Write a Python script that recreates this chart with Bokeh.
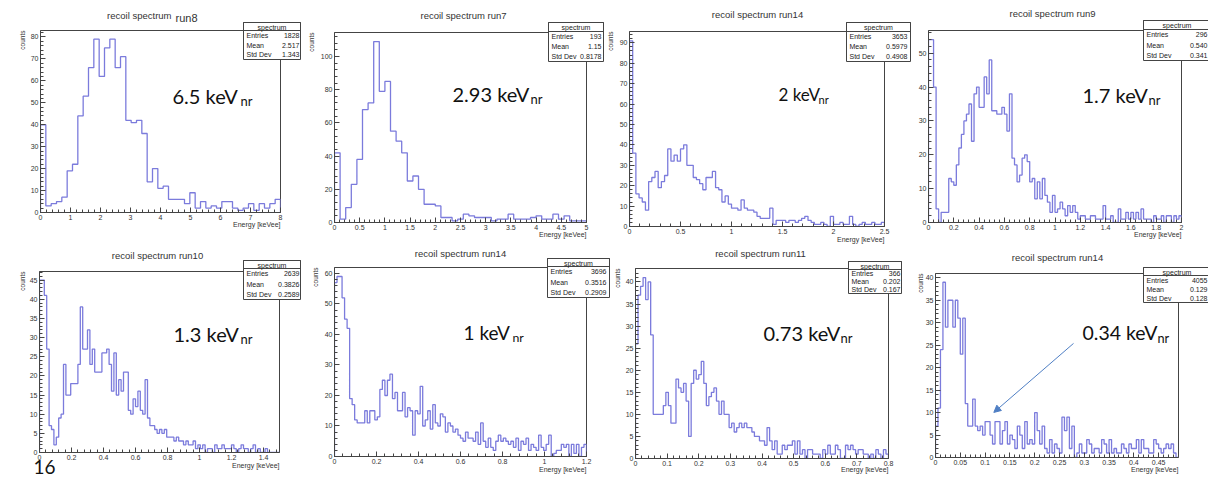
import numpy as np
from bokeh.plotting import figure
from bokeh.layouts import column
from bokeh.models import FixedTicker, Label, BoxAnnotation, Arrow, NormalHead, Range1d, GridBox
from bokeh.embed import file_html
from bokeh.resources import INLINE

# ---------------- data ----------------
run8_counts = [40, 3, 4, 5, 7, 19, 22, 44, 53, 66, 79, 62, 75, 79, 66, 71, 42, 41, 42, 36,
               14, 20, 11, 12, 6, 6, 6, 4, 9, 2, 5, 2, 3, 2, 5, 5, 2, 1, 2, 4, 1, 4, 2, 4, 6]
run7_counts = [42, 2, 9, 23, 38, 68, 72, 109, 79, 85, 55, 49, 42, 25, 28, 20, 11, 11, 10, 3,
               3, 1, 2, 5, 4, 3, 3, 3, 1, 2, 2, 5, 2, 2, 2, 3, 4, 2, 2, 5, 2, 4, 1, 1, 1]
run14a_counts = [91, 36, 16, 14, 12, 8, 22, 24, 27, 19, 22, 25, 38, 32, 35, 32, 38, 40, 30, 30,
                 24, 23, 21, 18, 24, 24, 27, 19, 18, 12, 15, 11, 9, 9, 8, 13, 9, 8, 8, 7,
                 5, 4, 4, 4, 9, 1, 3, 3, 3, 2, 3, 3, 2, 3, 4, 5, 3, 2, 1, 1,
                 2, 1, 0, 5, 1, 1, 2, 1, 1, 5, 1, 0, 1, 2, 1, 1, 2, 1, 1, 2]
run9_counts = [54, 54, 40, 4, 0, 3, 3, 3, 13, 12, 11, 17, 22, 26, 30, 32, 35, 24, 38, 40,
               34, 34, 43, 38, 48, 33, 33, 32, 32, 34, 32, 27, 38, 19, 17, 12, 14, 19, 20, 18,
               12, 13, 7, 12, 7, 13, 8, 6, 3, 8, 3, 4, 6, 4, 2, 5, 3, 5, 3, 1,
               2, 2, 1, 1, 2, 2, 1, 1, 1, 5, 1, 1, 2, 0, 0, 4, 1, 1, 3, 1,
               3, 1, 3, 1, 4, 1, 1, 1, 0, 2, 1, 1, 2, 0, 2, 2, 0, 2, 1, 2]
run10_counts = [45, 45, 41, 27, 7, 6, 2, 4, 9, 10, 23, 15, 15, 18, 18, 18, 23, 38, 27, 27,
                32, 23, 27, 21, 21, 21, 26, 26, 27, 23, 16, 26, 15, 19, 16, 21, 21, 11, 10, 14,
                12, 16, 11, 10, 19, 9, 7, 7, 6, 5, 6, 5, 6, 4, 4, 4, 3, 4, 3, 3,
                2, 3, 2, 2, 3, 1, 2, 1, 2, 0, 1, 1, 0, 2, 1, 1, 2, 1, 1, 1,
                2, 1, 0, 1, 2, 1, 1, 0, 1, 2, 0, 1, 0, 0, 1, 0, 0, 0, 0, 0]
run14b_counts = [57, 59, 59, 52, 45, 42, 19, 17, 12, 11, 11, 11, 15, 11, 15, 15, 12, 13, 22, 25,
                 20, 25, 27, 19, 21, 15, 15, 21, 13, 16, 15, 7, 15, 14, 23, 10, 12, 15, 9, 17,
                 11, 10, 14, 13, 8, 11, 10, 8, 9, 7, 6, 5, 8, 6, 6, 5, 8, 4, 11, 5,
                 3, 6, 3, 2, 5, 7, 5, 6, 5, 4, 5, 3, 6, 2, 5, 4, 6, 2, 4, 3,
                 2, 7, 3, 2, 4, 7, 0, 1, 2, 2, 4, 3, 4, 0, 4, 1, 4, 0, 3, 4]
run11_counts = [26, 37, 39, 41, 36, 40, 28, 10, 10, 10, 10, 12, 15, 12, 8, 8, 18, 16, 15, 17,
                13, 5, 17, 20, 18, 19, 22, 17, 12, 14, 15, 16, 13, 10, 13, 10, 10, 7, 8, 6,
                7, 8, 7, 8, 7, 7, 6, 5, 5, 4, 4, 3, 7, 4, 2, 4, 1, 1, 3, 2,
                3, 3, 4, 1, 4, 1, 2, 0, 2, 2, 1, 1, 1, 0, 2, 1, 3, 1, 1, 3,
                2, 0, 0, 3, 2, 3, 2, 1, 2, 2, 1, 1, 0, 1, 0, 2, 1, 0, 2, 1]
run14c_counts = [7, 11, 24, 39, 29, 35, 35, 29, 35, 31, 23, 31, 12, 7, 7, 13, 7, 6, 7, 5,
                 8, 8, 5, 3, 8, 8, 3, 6, 8, 3, 5, 4, 2, 7, 5, 2, 8, 3, 4, 3,
                 10, 6, 3, 7, 2, 1, 4, 1, 3, 2, 1, 9, 6, 9, 2, 7, 0, 1, 3, 1,
                 1, 4, 3, 1, 2, 2, 1, 4, 3, 1, 4, 1, 2, 1, 1, 3, 2, 1, 3, 2,
                 2, 4, 1, 4, 2, 2, 1, 1, 4, 3, 2, 1, 2, 3, 2, 3, 1, 0]

x_max = [8, 5, 2.5, 2, 1.5, 1.2, 0.8, 0.49]

titles = ["recoil spectrum", "recoil spectrum run7", "recoil spectrum run14", "recoil spectrum run9",
          "recoil spectrum run10", "recoil spectrum run14", "recoil spectrum run11", "recoil spectrum run14"]
title_run8 = "run8"

energy_labels = ["6.5 keV", "2.93 keV", "2 keV", "1.7 keV", "1.3 keV", "1 keV", "0.73 keV", "0.34 keV"]
energy_sub = "nr"

stat_entries = ["1828", "193", "3653", "296", "2639", "3696", "366", "4055"]
stat_means = ["2.517", "1.15", "0.5979", "0.540", "0.3826", "0.3516", "0.202", "0.129"]
stat_stds = ["1.343", "0.8178", "0.4908", "0.341", "0.2589", "0.2909", "0.167", "0.128"]

xtick_labels = [
    ["0", "1", "2", "3", "4", "5", "6", "7", "8"],
    ["0", "0.5", "1", "1.5", "2", "2.5", "3", "3.5", "4", "4.5", "5"],
    ["0", "0.5", "1", "1.5", "2", "2.5"],
    ["0", "0.2", "0.4", "0.6", "0.8", "1", "1.2", "1.4", "1.6", "1.8", "2"],
    ["0", "0.2", "0.4", "0.6", "0.8", "1", "1.2", "1.4"],
    ["0", "0.2", "0.4", "0.6", "0.8", "1", "1.2"],
    ["0", "0.1", "0.2", "0.3", "0.4", "0.5", "0.6", "0.7", "0.8"],
    ["0", "0.05", "0.1", "0.15", "0.2", "0.25", "0.3", "0.35", "0.4", "0.45"],
]
ytick_labels = [
    ["0", "10", "20", "30", "40", "50", "60", "70", "80"],
    ["0", "20", "40", "60", "80", "100"],
    ["0", "10", "20", "30", "40", "50", "60", "70", "80", "90"],
    ["0", "10", "20", "30", "40", "50"],
    ["0", "5", "10", "15", "20", "25", "30", "35", "40", "45"],
    ["0", "10", "20", "30", "40", "50", "60"],
    ["0", "5", "10", "15", "20", "25", "30", "35", "40"],
    ["0", "5", "10", "15", "20", "25", "30", "35", "40"],
]
all_counts = [run8_counts, run7_counts, run14a_counts, run9_counts,
              run10_counts, run14b_counts, run11_counts, run14c_counts]
page_number = "16"
axis_x_title = "Energy [keVee]"
axis_y_title = "counts"

# ---------------- layout / style (page pixel positions) ----------------
W, H = 1208, 477
col_edges = [0, 300, 606, 905, 1208]
row_edges = [0, 240, 477]
frames = [(40, 30, 280, 212), (334, 32, 586, 222), (629, 31, 884, 226), (928, 30, 1181, 222),
          (39, 271, 279, 452), (334, 267, 586, 456), (635, 268, 888, 458), (935, 273, 1178, 457)]
title_pos = [(135, 15), (463, 15), (757, 14), (1052, 13), (157, 255), (460, 253), (760, 253), (1057, 257)]
stat_boxes = [(243, 22, 300, 59, 30), (548, 22, 603, 61, 31), (846, 22, 910, 61, 31), (1143, 20, 1212, 60, 29),
              (243, 260, 300, 299, 268), (547, 258, 609, 297, 266), (848, 261, 901, 293, 269), (1143, 267, 1212, 302, 275)]
stat_val_right = [299, 601, 907, 1207, 299, 606, 900, 1207]
big_pos = [(172, 95, 240, 20), (452, 93, 530, 20), (778, 94, 818, 17), (1082, 94, 1148, 20),
           (173, 333, 240, 20), (463, 332, 512, 19), (763, 332, 840, 20), (1082, 332, 1157, 19.5)]
counts_x = [22, 311, 610, None, 22, 315, 617, 920]
energy_y = [224, 234, 239, 234, 465, 469, 469, 469]

LINE = "#7b7bdc"
AX = "#444444"
FONT = "Liberation Sans"


def ticks_minor(labels, div):
    vals = [float(s) for s in labels]
    step = vals[1] - vals[0]
    lo, hi = vals[0], vals[-1] + step
    n = int(round((hi - lo) / step * div))
    minors = [lo + k * step / div for k in range(n + 1)]
    return vals, minors


def make_panel(i):
    r, c = divmod(i, 4)
    cx0, cx1 = col_edges[c], col_edges[c + 1]
    cy0, cy1 = row_edges[r], row_edges[r + 1]
    L, T, R, B = frames[i]
    counts = all_counts[i]
    xmax = x_max[i]
    ymax = max(counts) * 1.05
    p = figure(width=cx1 - cx0, height=cy1 - cy0, x_range=Range1d(0, xmax), y_range=Range1d(0, ymax),
               output_backend="svg", toolbar_location=None, min_border=0,
               min_border_left=L - cx0, min_border_right=cx1 - R,
               min_border_top=T - cy0, min_border_bottom=cy1 - B)
    p.background_fill_color = "white"
    p.border_fill_color = "white"
    p.outline_line_color = AX
    p.outline_line_width = 1
    p.grid.visible = False

    xv, xm = ticks_minor(xtick_labels[i], 5)
    yv, ym = ticks_minor(ytick_labels[i], 5)
    p.xaxis.ticker = FixedTicker(ticks=xv, minor_ticks=[m for m in xm if m <= xmax + 1e-9])
    p.yaxis.ticker = FixedTicker(ticks=yv, minor_ticks=[m for m in ym if m <= ymax])
    p.xaxis.major_label_overrides = {v: s for v, s in zip(xv, xtick_labels[i])}
    p.yaxis.major_label_overrides = {v: s for v, s in zip(yv, ytick_labels[i])}
    for ax in (p.xaxis, p.yaxis):
        ax.major_label_text_font = FONT
        ax.major_label_text_font_size = "7px"
        ax.major_label_text_color = "#333333"
        ax.major_label_standoff = 2
        ax.major_tick_in = 5
        ax.major_tick_out = 0
        ax.minor_tick_in = 3
        ax.minor_tick_out = 0
        ax.axis_line_color = AX
        ax.major_tick_line_color = AX
        ax.minor_tick_line_color = AX

    n = len(counts)
    edges = np.linspace(0, xmax, n + 1)
    xs = np.repeat(edges, 2)
    ys = np.concatenate([[0.0], np.repeat(np.array(counts, float), 2), [0.0]])
    p.line(xs, ys, line_color=LINE, line_width=1.3)

    if i == 7:
        p.add_layout(Arrow(end=NormalHead(size=7, fill_color="#4f7fc4", line_color="#4f7fc4"),
                           x_start=0.568 * xmax, y_start=0.62 * ymax, x_end=0.24 * xmax, y_end=0.245 * ymax,
                           line_color="#4f7fc4", line_width=1))
    return p


panels = [make_panel(i) for i in range(8)]

# ---------------- text overlay (page pixel coordinates) ----------------
ov = figure(width=W, height=H, x_range=Range1d(0, W), y_range=Range1d(H, 0),
            output_backend="svg", toolbar_location=None, min_border=0,
            x_axis_type=None, y_axis_type=None)
ov.background_fill_color = None
ov.border_fill_color = None
ov.outline_line_color = None


def lab(X, Y, text, **kw):
    opts = dict(text_font=FONT, text_font_size="7px", text_color="#222222")
    opts.update(kw)
    ov.add_layout(Label(x=X, y=Y, text=text, **opts))


for i in range(8):
    L, T, R, B = frames[i]
    tx, ty = title_pos[i]
    if i == 0:
        lab(171, ty, titles[0], text_align="right", text_baseline="middle", text_font_size="9.5px", text_color="#333333")
        lab(175, 17, title_run8, text_align="left", text_baseline="middle", text_font_size="11px", text_color="#333333")
    else:
        lab(tx, ty, titles[i], text_align="center", text_baseline="middle", text_font_size="9.5px", text_color="#333333")

    bl, bt, br, bb, bh = stat_boxes[i]
    ov.add_layout(BoxAnnotation(left=bl, right=br, top=bt, bottom=bb,
                                fill_color="white", fill_alpha=1.0, line_color=AX, line_width=1, line_alpha=1.0))
    ov.add_layout(BoxAnnotation(left=bl, right=br, top=bt, bottom=bh,
                                fill_alpha=0.0, line_color=AX, line_width=1, line_alpha=1.0))
    lab((bl + min(br, stat_val_right[i] + 3)) / 2, (bt + bh) / 2 + 0.5, "spectrum",
        text_align="center", text_baseline="middle")
    names = ["Entries", "Mean", "Std Dev"]
    vals = [stat_entries[i], stat_means[i], stat_stds[i]]
    for k in range(3):
        yk = bh + (bb - bh) * (k + 0.5) / 3
        lab(bl + 3, yk, names[k], text_align="left", text_baseline="middle")
        lab(stat_val_right[i], yk, vals[k], text_align="right", text_baseline="middle")

    bx, by, nx, fs = big_pos[i]
    lab(bx, by, energy_labels[i], text_font="Lato", text_font_size=f"{fs}px", text_color="#111111",
        text_align="left", text_baseline="alphabetic")
    lab(nx, by + 5, energy_sub, text_font="Lato", text_font_size=f"{fs * 0.65:.1f}px", text_color="#111111",
        text_align="left", text_baseline="alphabetic")

    if counts_x[i] is not None:
        lab(counts_x[i], T, axis_y_title, angle=np.pi / 2, text_align="right", text_baseline="middle",
            text_font_size="6.5px", text_color="#333333")
    lab(R, energy_y[i], axis_x_title, text_align="right", text_baseline="middle", text_color="#333333")

lab(33, 466, page_number, text_font="Lato", text_font_size="19px", text_color="#111111",
    text_align="left", text_baseline="middle")

# each figure wrapped in its own column so that the grid does not align frames across cells
children = [(column(panels[i], spacing=0), i // 4, i % 4) for i in range(8)] + [(column(ov, spacing=0), 0, 0, 2, 4)]
layout = GridBox(children=children, spacing=0)

open("out.html", "w").write(file_html(layout, INLINE))
